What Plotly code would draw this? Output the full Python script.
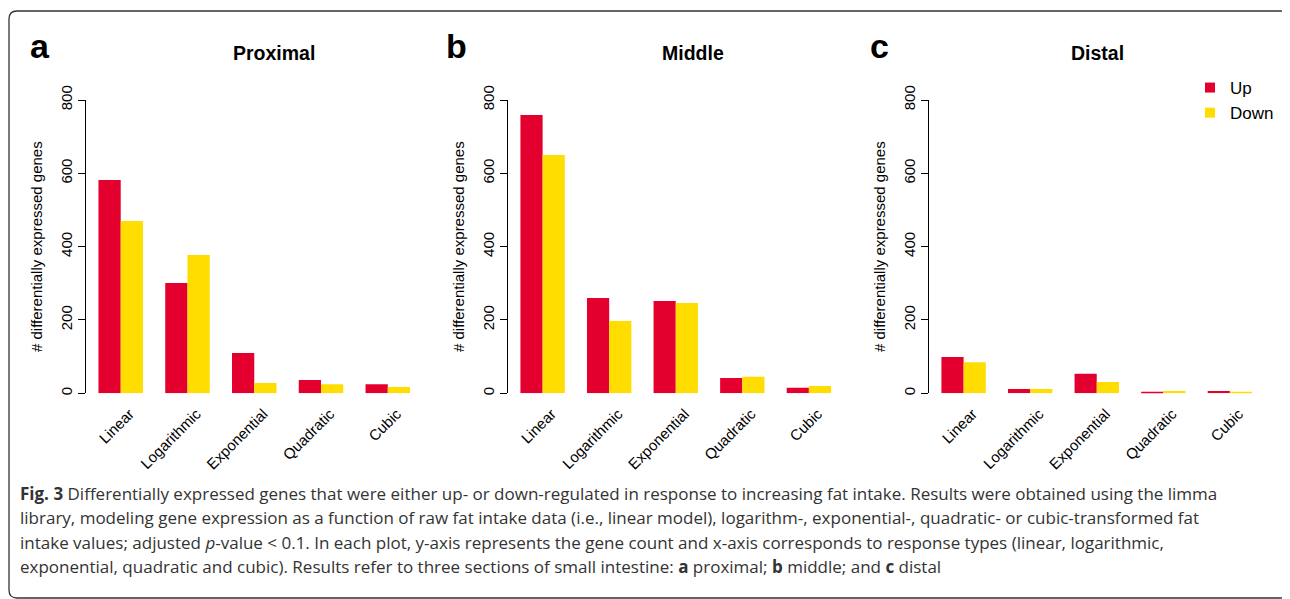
import plotly.graph_objects as go

# ---------------- data ----------------
categories = ["Linear", "Logarithmic", "Exponential", "Quadratic", "Cubic"]
panel_titles = ["Proximal", "Middle", "Distal"]
panel_letters = ["a", "b", "c"]
series_names = ["Up", "Down"]

proximal_up = [582, 301, 110, 36, 25]
proximal_down = [470, 377, 28, 25, 17]
middle_up = [759, 260, 252, 42, 15]
middle_down = [650, 197, 246, 45, 20]
distal_up = [99, 12, 53, 4, 6]
distal_down = [85, 12, 31, 6, 4]

y_ticks = [0, 200, 400, 600, 800]
y_title = "# differentially expressed genes"

caption_lines = [
    "<b>Fig. 3</b> Differentially expressed genes that were either up- or down-regulated in response to increasing fat intake. Results were obtained using the limma",
    "library, modeling gene expression as a function of raw fat intake data (i.e., linear model), logarithm-, exponential-, quadratic- or cubic-transformed fat",
    "intake values; adjusted <i>p</i>-value &lt; 0.1. In each plot, y-axis represents the gene count and x-axis corresponds to response types (linear, logarithmic,",
    "exponential, quadratic and cubic). Results refer to three sections of small intestine: <b>a</b> proximal; <b>b</b> middle; and <b>c</b> distal",
]

# ---------------- styling ----------------
W, H = 1290, 599
OFF = 8  # page body margin compensation
RED = "#E4002E"
YELLOW = "#FFDD00"
FONT = "Liberation Sans"
CAP_FONT = "Open Sans"

def px(x):
    return (x - OFF) / W

def py(y):
    return 1 - (y - OFF) / H

domains_x = [(86, 422.5), (508, 843.5), (929, 1264.5)]
dom_y = [py(393.3), py(100)]
title_x = [273.5, 692.5, 1097]
letter_x = [40, 457, 879]

data_up = [proximal_up, middle_up, distal_up]
data_down = [proximal_down, middle_down, distal_down]
colors = [RED, YELLOW]

fig = go.Figure()
layout = dict(
    template="none",
    width=W, height=H,
    margin=dict(l=0, r=0, t=0, b=0, pad=0, autoexpand=False),
    paper_bgcolor="white", plot_bgcolor="white",
    barmode="group", bargap=1/3, bargroupgap=0,
    showlegend=True,
    legend=dict(x=px(1190), y=py(70), xanchor="left", yanchor="top",
                font=dict(family=FONT, size=17, color="black"),
                bgcolor="rgba(0,0,0,0)", borderwidth=0, tracegroupgap=0),
    font=dict(family=FONT, color="black"),
)

annotations = []
for i in range(3):
    sfx = "" if i == 0 else str(i + 1)
    xa, ya = "x" + sfx, "y" + sfx
    for name, vals, col in zip(series_names, [data_up[i], data_down[i]], colors):
        fig.add_trace(go.Bar(x=categories, y=vals, name=name,
                             marker=dict(color=col, line=dict(width=0)),
                             xaxis=xa, yaxis=ya, legendgroup=name, showlegend=False))
    layout["xaxis" + sfx] = dict(
        domain=[px(domains_x[i][0]), px(domains_x[i][1])], anchor=ya,
        type="category", range=[-0.52, 4.52], showline=False, showgrid=False,
        ticks="", tickangle=-45, tickfont=dict(family=FONT, size=15, color="black"),
        ticklabelshift=9, ticklabelstandoff=8, zeroline=False, automargin=False,
    )
    layout["yaxis" + sfx] = dict(
        domain=dom_y, anchor=xa, range=[0, 800], tickvals=y_ticks,
        showline=True, linecolor="black", linewidth=1.2, showgrid=False, zeroline=False,
        ticks="outside", ticklen=7, tickwidth=1.2, tickcolor="black",
        tickangle=-90, tickfont=dict(family=FONT, size=15, color="black"),
        title=dict(text=y_title, font=dict(family=FONT, size=15, color="black"), standoff=11),
        automargin=False,
    )
    annotations.append(dict(x=px(title_x[i]), y=py(53), xref="paper", yref="paper",
                            text="<b>%s</b>" % panel_titles[i], showarrow=False,
                            xanchor="center", yanchor="middle",
                            font=dict(family=FONT, size=19.5, color="black")))
    annotations.append(dict(x=px(letter_x[i]), y=py(46), xref="paper", yref="paper",
                            text="<b>%s</b>" % panel_letters[i], showarrow=False,
                            xanchor="center", yanchor="middle",
                            font=dict(family=FONT, size=34, color="black")))

# legend entries (square swatches)
for name, col in zip(series_names, colors):
    fig.add_trace(go.Scatter(x=[None], y=[None], mode="markers", name=name,
                             marker=dict(symbol="square", size=10, color=col),
                             legendgroup=name, showlegend=True, xaxis="x3", yaxis="y3"))

cap_y = [493, 517.5, 542, 566.5]
for line, yy in zip(caption_lines, cap_y):
    annotations.append(dict(x=px(18), y=py(yy), xref="paper", yref="paper", text=line,
                            showarrow=False, xanchor="left", yanchor="middle",
                            font=dict(family=CAP_FONT, size=17, color="#333333")))

layout["annotations"] = annotations

# rounded border
x0, y0, x1, y1, r = 9, 11, 1289, 598, 8
path = (f"M {px(x0)},{py(y0 + r)} Q {px(x0)},{py(y0)} {px(x0 + r)},{py(y0)} "
        f"L {px(x1 - r)},{py(y0)} Q {px(x1)},{py(y0)} {px(x1)},{py(y0 + r)} "
        f"L {px(x1)},{py(y1 - r)} Q {px(x1)},{py(y1)} {px(x1 - r)},{py(y1)} "
        f"L {px(x0 + r)},{py(y1)} Q {px(x0)},{py(y1)} {px(x0)},{py(y1 - r)} Z")
layout["shapes"] = [dict(type="path", path=path, xref="paper", yref="paper",
                         line=dict(color="#333333", width=1.3))]

fig.update_layout(**layout)
fig.write_html("out.html")
